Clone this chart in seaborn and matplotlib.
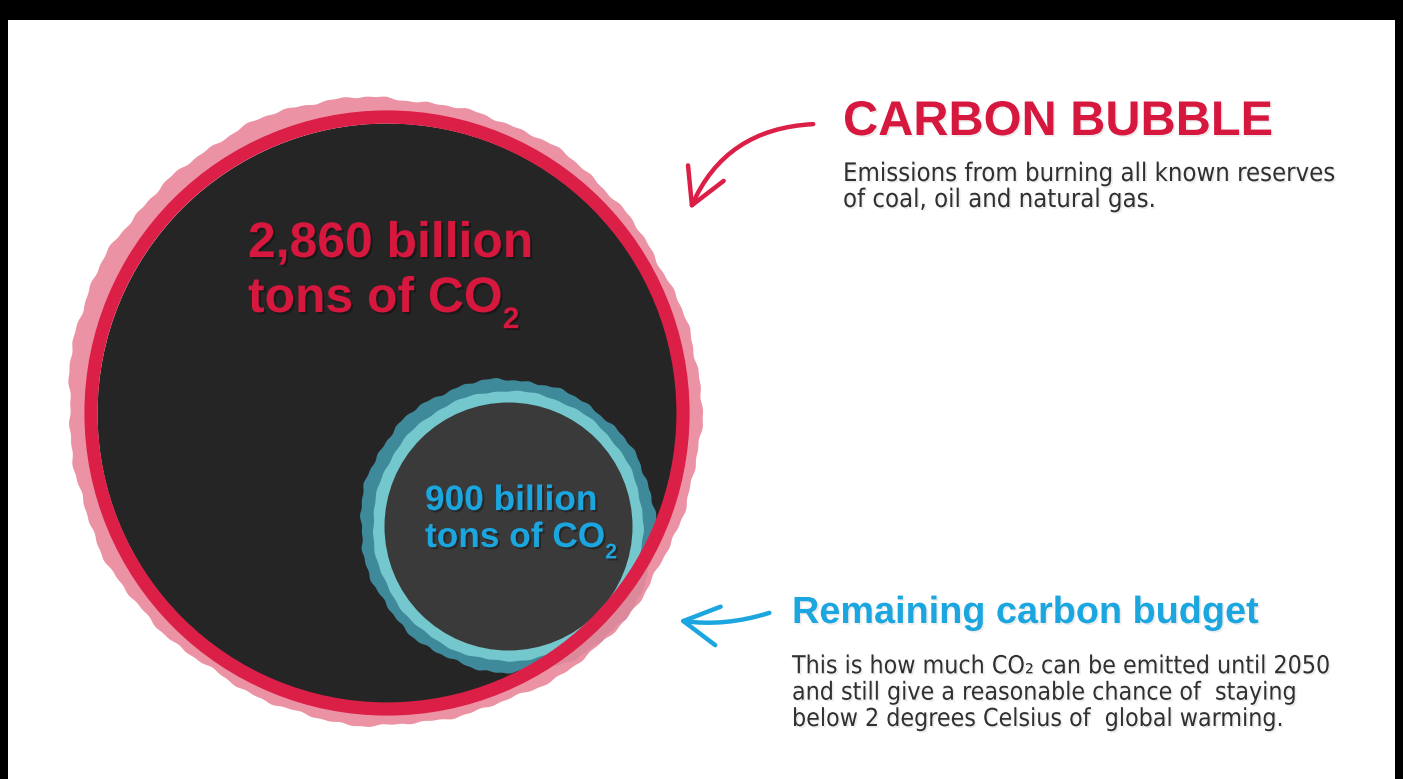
import numpy as np
import pandas as pd
import matplotlib
matplotlib.use("Agg")
import matplotlib.pyplot as plt
import matplotlib.patheffects as pe
from matplotlib.patches import Circle, Polygon, Rectangle, FancyArrowPatch, ArrowStyle
from matplotlib import font_manager
from matplotlib.font_manager import FontProperties
import seaborn as sns

# ---------------- data ----------------
categories = ["Carbon bubble", "Remaining carbon budget"]
values_gt = [2860, 900]                       # billion tons of CO2
value_labels = ["2,860 billion", "900 billion"]
unit_label = "tons of CO"
titles = ["CARBON BUBBLE", "Remaining carbon budget"]
bubble_desc = ["Emissions from burning all known reserves",
               "of coal, oil and natural gas."]
budget_desc = ["This is how much CO\u2082 can be emitted until 2050",
               "and still give a reasonable chance of  staying",
               "below 2 degrees Celsius of  global warming."]

# ---------------- style ----------------
sns.set_theme(style="white")
entries = font_manager.fontManager.ttflist
names = {f.name for f in entries}
HEAD = "Liberation Sans" if "Liberation Sans" in names else "DejaVu Sans"

def find_body():
    prefs = [("Liberation Sans Narrow", None), ("DejaVu Sans", "condensed"),
             ("Roboto Condensed", None), ("Noto Sans", "condensed")]
    for name, stretch in prefs:
        for f in entries:
            if f.name == name and f.style == "normal" and f.weight in (400, "normal", "regular"):
                if stretch is None or "ondensed" in f.fname:
                    return FontProperties(fname=f.fname)
    return FontProperties(family="Roboto" if "Roboto" in names else HEAD)

BODY_FP = find_body()
plt.rcParams["font.family"] = [HEAD, "DejaVu Sans"]

RED = "#d6173e"
RING_RED = "#dc1f46"
PINK = "#ea8a9c"
DARK = "#252525"
DARK2 = "#3a3a3a"
TEAL_L = "#73c7cd"
TEAL_D = "#3f8a9a"
CYAN = "#1ba6df"
BODYC = "#303030"

W, H = 1403, 779
fig = plt.figure(figsize=(W / 100, H / 100), dpi=100)
fig.patch.set_facecolor("black")
ax = fig.add_axes([0, 0, 1, 1])
ax.set_xlim(0, W)
ax.set_ylim(H, 0)
ax.axis("off")
ax.add_patch(Rectangle((8, 20), W - 16, H - 20, facecolor="white", edgecolor="none", zorder=0))
renderer = fig.canvas.get_renderer()

# layout (pixel space)
centers = {"Carbon bubble": (387, 413), "Remaining carbon budget": (508, 526)}
fill_r = {"Carbon bubble": 290, "Remaining carbon budget": 124}

def rough(cx, cy, r, amps, freqs, phases, n=1440):
    th = np.linspace(0, 2 * np.pi, n, endpoint=False)
    rr = r + sum(a * np.sin(f * th + p) for a, f, p in zip(amps, freqs, phases))
    return np.column_stack([cx + rr * np.cos(th), cy + rr * np.sin(th)])

df = pd.DataFrame({"category": categories, "value": values_gt})
df["x"] = [centers[c][0] for c in df["category"]]
df["y"] = [centers[c][1] for c in df["category"]]
df["s"] = [(2 * fill_r[c] * 0.72) ** 2 for c in df["category"]]

bx, by = centers["Carbon bubble"]
sx, sy = centers["Remaining carbon budget"]

# big bubble: dark disc via seaborn
sns.scatterplot(data=df.iloc[[0]], x="x", y="y", s=df["s"].iloc[0], color=DARK,
                linewidth=0, ax=ax, legend=False, zorder=2)
# small bubble rings
ax.add_patch(Polygon(rough(sx, sy, 147, [1.8, 1.0, 0.7, 0.5], [2, 11, 27, 57], [0.3, 1.7, 2.9, 1.0]),
                     closed=True, facecolor=TEAL_D, edgecolor="none", zorder=3))
ax.add_patch(Polygon(rough(sx, sy, 135, [0.6, 0.4], [13, 41], [1.1, 0.4]),
                     closed=True, facecolor=TEAL_L, edgecolor="none", zorder=3.1))
sns.scatterplot(data=df.iloc[[1]], x="x", y="y", s=df["s"].iloc[1], color=DARK2,
                linewidth=0, ax=ax, legend=False, zorder=3.2)

# big bubble rims (drawn over the small bubble where they overlap)
outer = rough(bx - 3, by - 2, 315, [2.5, 1.6, 1.0, 0.8, 0.5], [2, 7, 19, 43, 97],
              [0.5, 2.1, 1.3, 0.2, 2.4])
th = np.linspace(0, 2 * np.pi, 1440, endpoint=False)
inner = np.column_stack([bx + 300 * np.cos(th[::-1]), by + 300 * np.sin(th[::-1])])
ax.add_patch(Polygon(np.vstack([outer, outer[:1], inner, inner[:1]]), closed=True,
                     facecolor=PINK, edgecolor="none", alpha=0.92, zorder=4))
ax.add_patch(Circle((bx, by), 296, facecolor="none", edgecolor=RING_RED, linewidth=9.5, zorder=4.1))

shadow = [pe.withSimplePatchShadow(offset=(1.5, -1.5), shadow_rgbFace="black", alpha=0.3)]
shadow_l = [pe.withSimplePatchShadow(offset=(1.2, -1.2), shadow_rgbFace="black", alpha=0.08)]

def fit(x, y, s, width, **kw):
    t = ax.text(x, y, s, fontsize=20, va="baseline", ha="left", **kw)
    w = t.get_window_extent(renderer).width
    t.set_fontsize(20 * width / w)
    return t

def segments(x, y, parts, size, **kw):
    for p in parts:
        if isinstance(p, tuple):
            t = ax.text(x, y + size * 0.45, p[0], fontsize=size * 0.6, va="baseline", ha="left", **kw)
        else:
            t = ax.text(x, y, p, fontsize=size, va="baseline", ha="left", **kw)
        x += t.get_window_extent(renderer).width
    return x

def block(x, y_last, lines, width_line, width, gap, **kw):
    """multi-line text; size fitted so that line `width_line` has `width`,
    line pitch set to `gap` pixels; y_last is the last baseline."""
    fp = kw.pop("fontproperties").copy()
    probe = ax.text(0, 0, lines[width_line], fontproperties=fp, fontsize=20)
    size = 20 * width / probe.get_window_extent(renderer).width
    probe.remove()
    fp.set_size(size)
    t1 = ax.text(0, 0, "A", fontproperties=fp)
    t2 = ax.text(0, 0, "A\nA", fontproperties=fp, linespacing=1.0)
    pitch = t2.get_window_extent(renderer).height - t1.get_window_extent(renderer).height
    t1.remove(); t2.remove()
    return ax.text(x, y_last, "\n".join(lines), fontproperties=fp, linespacing=gap / pitch,
                   va="baseline", ha="left", **kw)

def block_top(x, y_first, lines, wl, width, gap, **kw):
    return block(x, y_first + gap * (len(lines) - 1), lines, wl, width, gap, **kw)

# bubble labels
t1 = fit(248, 257, value_labels[0], 285, color=RED, fontweight="bold", family=[HEAD], zorder=6,
         path_effects=shadow)
fs1 = t1.get_fontsize()
segments(248, 312, [unit_label, ("2", "sub")], fs1, color=RED, fontweight="bold", family=[HEAD],
         zorder=6, path_effects=shadow)
t2 = fit(425, 510, value_labels[1], 172, color=CYAN, fontweight="bold", family=[HEAD], zorder=6,
         path_effects=shadow)
fs2 = t2.get_fontsize()
segments(425, 547, [unit_label, ("2", "sub")], fs2, color=CYAN, fontweight="bold", family=[HEAD],
         zorder=6, path_effects=shadow)

# titles
fit(843, 135, titles[0], 429, color=RED, fontweight="bold", family=[HEAD], zorder=6, path_effects=shadow_l)
fit(792, 623, titles[1], 466, color=CYAN, fontweight="bold", family=[HEAD], zorder=6, path_effects=shadow_l)

# descriptions
block_top(843, 181, bubble_desc, 0, 492, 26, fontproperties=BODY_FP, color=BODYC, zorder=6,
          path_effects=shadow_l)
block_top(792, 672, budget_desc, 2, 491, 27, fontproperties=BODY_FP, color=BODYC, zorder=6,
          path_effects=shadow_l)

# arrows
ax.add_patch(FancyArrowPatch((816, 124), (689, 212), connectionstyle="arc3,rad=0.32",
                             arrowstyle=ArrowStyle("->", head_length=0.9, head_width=0.5),
                             mutation_scale=28, color=RING_RED, linewidth=3.2,
                             capstyle="round", joinstyle="round", zorder=6))
ax.add_patch(FancyArrowPatch((772, 612), (676, 620), connectionstyle="arc3,rad=-0.12",
                             arrowstyle=ArrowStyle("->", head_length=0.9, head_width=0.5),
                             mutation_scale=28, color=CYAN, linewidth=3.2,
                             capstyle="round", joinstyle="round", zorder=6))

fig.savefig("out.png", dpi=100, facecolor=fig.get_facecolor())
